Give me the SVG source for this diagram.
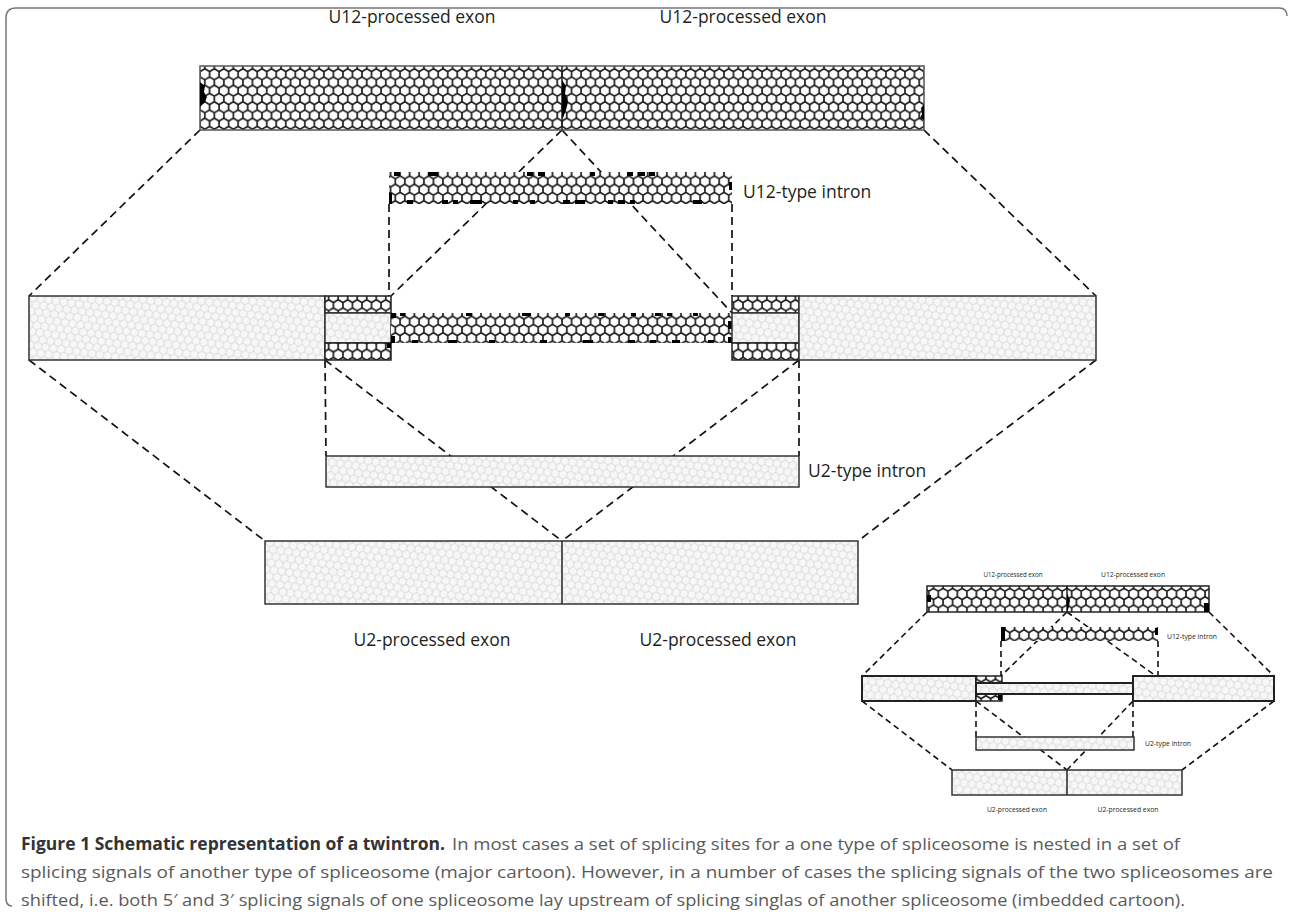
<svg xmlns="http://www.w3.org/2000/svg" width="1290" height="912" viewBox="0 0 1290 912">
<style>
.lbl{font-family:"Open Sans","Liberation Sans",sans-serif;font-size:17.5px;fill:#231f20}
.slbl{font-family:"Open Sans","Liberation Sans",sans-serif;font-size:7px;fill:#231f20}
.cap{font-family:"Open Sans","Liberation Sans",sans-serif;font-size:17px;fill:#5a5a5a}
.capb{font-family:"Open Sans","Liberation Sans",sans-serif;font-size:17px;font-weight:bold;fill:#333}
.dash{stroke:#111;stroke-width:1.7;stroke-dasharray:8 5;fill:none}
.dashs{stroke:#111;stroke-width:1.6;stroke-dasharray:6 4;fill:none}
.u12{fill:url(#u12p)}
.u12b{fill:url(#u12p);stroke:#222;stroke-width:1.5}
.u2{fill:url(#u2p);stroke:#333;stroke-width:1.5}
.u2t{fill:url(#u2p);stroke:#222;stroke-width:2}
.blk{fill:#000}
.div{stroke:#222;stroke-width:1.5}
</style>
<defs>
<pattern id="u12p" width="9.526" height="16.5" patternUnits="userSpaceOnUse">
<rect width="9.526" height="16.5" fill="#fff"/>
<path d="M4.763,0 V2.75 L9.526,5.5 V11 L4.763,13.75 L0,11 V5.5 L4.763,2.75 M4.763,13.75 V16.5" fill="none" stroke="#111" stroke-width="1.6"/>
</pattern>
<pattern id="u2p" width="7.794" height="13.5" patternUnits="userSpaceOnUse" patternTransform="rotate(8)">
<rect width="7.794" height="13.5" fill="#f7f7f7"/>
<path d="M3.897,0 V2.25 L7.794,4.5 V9 L3.897,11.25 L0,9 V4.5 L3.897,2.25 M3.897,11.25 V13.5" fill="none" stroke="#d6d6d6" stroke-width="0.9"/>
</pattern>
</defs>

<path id="frame" d="M1287,16 Q1287,8 1279,8 H16 Q6,8 6,18 V898 Q6,906 12,906" fill="none" stroke="#777" stroke-width="1.5"/>

<g id="connectors">
<line class="dash" x1="200" y1="130" x2="29" y2="296"/>
<line class="dash" x1="924" y1="130" x2="1096" y2="296"/>
<line class="dash" x1="562" y1="130" x2="391" y2="296"/>
<line class="dash" x1="562" y1="130" x2="732" y2="313"/>
<line class="dash" x1="389" y1="204" x2="389" y2="296"/>
<line class="dash" x1="732" y1="204" x2="732" y2="296"/>
<line class="dash" x1="29" y1="360" x2="265" y2="541"/>
<line class="dash" x1="1096" y1="360" x2="858" y2="541"/>
<line class="dash" x1="325" y1="360" x2="326" y2="456"/>
<line class="dash" x1="799" y1="360" x2="799" y2="456"/>
<line class="dash" x1="325" y1="360" x2="562" y2="541"/>
<line class="dash" x1="799" y1="360" x2="562" y2="541"/>
<line class="dashs" x1="927" y1="612" x2="862" y2="676"/>
<line class="dashs" x1="1209" y1="612" x2="1274" y2="676"/>
<line class="dashs" x1="1067" y1="612" x2="1001" y2="676"/>
<line class="dashs" x1="1067" y1="612" x2="1156" y2="676"/>
<line class="dashs" x1="1001" y1="641" x2="1001" y2="676"/>
<line class="dashs" x1="1158" y1="641" x2="1158" y2="676"/>
<line class="dashs" x1="862" y1="701" x2="952" y2="770"/>
<line class="dashs" x1="1274" y1="701" x2="1182" y2="770"/>
<line class="dashs" x1="976" y1="701" x2="976" y2="737"/>
<line class="dashs" x1="1133" y1="701" x2="1133" y2="737"/>
<line class="dashs" x1="976" y1="701" x2="1067" y2="770"/>
<line class="dashs" x1="1133" y1="701" x2="1067" y2="770"/>
</g>

<g id="u12-exons-top">
<rect class="u12" x="200" y="66" width="724" height="64" stroke="#555" stroke-width="1.5"/>
<line class="div" x1="562" y1="66" x2="562" y2="130"/>
<path class="blk" d="M200,82 L205,86 L204,92 L207,97 L204,103 L200,107 Z"/>
<path class="blk" d="M562,80 L566,86 L565,94 L568,102 L566,110 L563,118 L562,118 Z"/>
<path class="blk" d="M924,104 L921,108 L922,114 L920,118 L924,120 Z"/>
<text class="lbl" x="412" y="23" text-anchor="middle">U12-processed exon</text>
<text class="lbl" x="743" y="23" text-anchor="middle">U12-processed exon</text>
</g>

<g id="u12-intron">
<rect class="u12" x="389" y="172" width="343" height="32"/>
<g class="blk">
<rect x="394" y="172" width="6" height="4"/><rect x="428" y="172" width="10" height="4"/><rect x="527" y="172" width="6" height="4"/><rect x="538" y="172" width="7" height="4"/><rect x="590" y="172" width="5" height="4"/><rect x="627" y="172" width="6" height="4"/><rect x="638" y="172" width="7" height="4"/><rect x="649" y="172" width="6" height="4"/>
<rect x="407" y="200" width="6" height="4"/><rect x="442" y="200" width="6" height="4"/><rect x="453" y="200" width="5" height="4"/><rect x="470" y="200" width="12" height="4"/><rect x="513" y="200" width="5" height="4"/><rect x="530" y="200" width="5" height="4"/><rect x="575" y="200" width="10" height="4"/><rect x="563" y="200" width="7" height="4"/><rect x="608" y="200" width="5" height="4"/><rect x="618" y="200" width="7" height="4"/><rect x="630" y="200" width="5" height="4"/><rect x="693" y="200" width="9" height="4"/>
<rect x="389" y="193" width="3" height="11"/><rect x="729" y="182" width="3" height="8"/>
</g>
<text class="lbl" x="743" y="198">U12-type intron</text>
</g>

<g id="left-exon">
<rect class="u2" x="29" y="296" width="296" height="64"/>
</g>

<g id="left-u12-sites">
<rect class="u12b" x="325" y="296" width="66" height="17"/>
<rect class="u2" x="325" y="313" width="66" height="30"/>
<rect class="u12b" x="325" y="343" width="66" height="17"/>
<rect class="blk" x="387" y="343" width="4" height="5"/>
</g>

<g id="u12-intron-mid">
<rect class="u12" x="391" y="313" width="341" height="30"/>
<g class="blk">
<rect x="391" y="313" width="5" height="5"/><rect x="391" y="336" width="4" height="7"/>
<rect x="400" y="313" width="5" height="3"/><rect x="466" y="313" width="6" height="3"/><rect x="522" y="313" width="9" height="3"/><rect x="565" y="313" width="5" height="3"/><rect x="598" y="313" width="6" height="3"/><rect x="631" y="313" width="5" height="3"/><rect x="655" y="313" width="6" height="3"/><rect x="667" y="313" width="5" height="3"/><rect x="693" y="313" width="5" height="3"/>
<rect x="412" y="340" width="6" height="3"/><rect x="448" y="340" width="9" height="3"/><rect x="489" y="340" width="6" height="3"/><rect x="540" y="340" width="7" height="3"/><rect x="583" y="340" width="10" height="3"/><rect x="628" y="340" width="7" height="3"/><rect x="650" y="340" width="6" height="3"/><rect x="672" y="340" width="8" height="3"/><rect x="708" y="340" width="6" height="3"/>
<rect x="728" y="321" width="4" height="8"/><rect x="728" y="337" width="4" height="6"/>
</g>
</g>

<g id="right-u12-sites">
<rect class="u12b" x="732" y="296" width="67" height="17"/>
<rect class="u2" x="732" y="313" width="67" height="30"/>
<rect class="u12b" x="732" y="343" width="67" height="17"/>
</g>

<g id="right-exon">
<rect class="u2" x="799" y="296" width="297" height="64"/>
</g>

<g id="u2-intron">
<rect class="u2" x="326" y="456" width="473" height="31"/>
<text class="lbl" x="808" y="477">U2-type intron</text>
</g>

<g id="u2-exons-bottom">
<rect class="u2" x="265" y="541" width="593" height="63"/>
<line class="div" x1="562" y1="541" x2="562" y2="604"/>
<text class="lbl" x="432" y="646" text-anchor="middle">U2-processed exon</text>
<text class="lbl" x="718" y="646" text-anchor="middle">U2-processed exon</text>
</g>

<g id="inset-u12-exons">
<rect class="u12b" x="927" y="586" width="282" height="26" stroke-width="1.8"/>
<line class="div" x1="1067" y1="586" x2="1067" y2="612"/>
<rect class="blk" x="927" y="595" width="4" height="7"/>
<path class="blk" d="M1067,593 L1070,600 L1069,607 L1067,612 Z"/>
<rect class="blk" x="1204" y="603" width="5" height="9"/>
<text class="slbl" x="1013" y="577" text-anchor="middle" textLength="59" lengthAdjust="spacingAndGlyphs">U12-processed exon</text>
<text class="slbl" x="1133" y="577" text-anchor="middle" textLength="64" lengthAdjust="spacingAndGlyphs">U12-processed exon</text>
</g>

<g id="inset-u12-intron">
<rect class="u12" x="1001" y="627" width="157" height="14"/>
<rect class="blk" x="1001" y="627" width="4" height="14"/>
<rect class="blk" x="1155" y="628" width="3" height="7"/>
<text class="slbl" x="1167" y="639" textLength="50" lengthAdjust="spacingAndGlyphs">U12-type intron</text>
</g>

<g id="inset-left-exon">
<rect class="u2t" x="862" y="676" width="114" height="25"/>
</g>

<g id="inset-u12-sites">
<rect class="u12b" x="976" y="676" width="26" height="7"/>
<rect class="u12b" x="976" y="694" width="26" height="7"/>
<rect class="blk" x="998" y="694" width="4" height="6"/>
</g>

<g id="inset-u2-intron-mid">
<rect class="u2t" x="976" y="683" width="157" height="11" stroke-width="1.6"/>
</g>

<g id="inset-right-exon">
<rect class="u2t" x="1133" y="676" width="141" height="25"/>
</g>

<g id="inset-u2-intron">
<rect class="u2" x="976" y="737" width="158" height="13"/>
<text class="slbl" x="1145" y="746" textLength="46" lengthAdjust="spacingAndGlyphs">U2-type intron</text>
</g>

<g id="inset-u2-exons">
<rect class="u2" x="952" y="770" width="230" height="25"/>
<line class="div" x1="1067" y1="770" x2="1067" y2="795"/>
<text class="slbl" x="1017" y="812" text-anchor="middle" textLength="60" lengthAdjust="spacingAndGlyphs">U2-processed exon</text>
<text class="slbl" x="1128" y="812" text-anchor="middle" textLength="61" lengthAdjust="spacingAndGlyphs">U2-processed exon</text>
</g>

<g id="caption">
<text class="capb" x="21" y="850" textLength="424" lengthAdjust="spacingAndGlyphs">Figure 1 Schematic representation of a twintron.</text>
<text class="cap" x="452" y="850" textLength="728" lengthAdjust="spacingAndGlyphs">In most cases a set of splicing sites for a one type of spliceosome is nested in a set of</text>
<text class="cap" x="21" y="878" textLength="1252" lengthAdjust="spacingAndGlyphs">splicing signals of another type of spliceosome (major cartoon). However, in a number of cases the splicing signals of the two spliceosomes are</text>
<text class="cap" x="21" y="906" textLength="1164" lengthAdjust="spacingAndGlyphs">shifted, i.e. both 5′ and 3′ splicing signals of one spliceosome lay upstream of splicing singlas of another spliceosome (imbedded cartoon).</text>
</g>
</svg>
